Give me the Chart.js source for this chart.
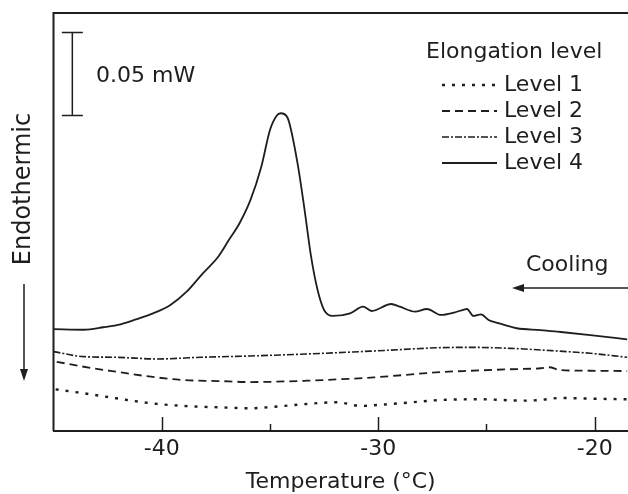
<!DOCTYPE html>
<html>
<head>
<meta charset="utf-8">
<script src="https://cdn.jsdelivr.net/npm/chart.js@4/dist/chart.umd.min.js"></script>
<style>
  html, body { margin: 0; padding: 0; background: #fff; }
  #wrap { width: 628px; height: 494px; position: relative; }
</style>
</head>
<body>
<div id="wrap"><canvas id="dscChart"></canvas></div>
<script>
// DSC cooling curves, heat flow in uW (relative offset), temperature in degC
const xTicks = [-40, -35, -30, -25, -20];
const xLabels = ['-40', '', '-30', '', '-20'];
const seriesNames = ['Level 1', 'Level 2', 'Level 3', 'Level 4'];

const tempL1 = [-44.9, -43.6, -42.1, -40.5, -39.0, -37.4, -35.9, -34.8, -33.3, -31.9, -30.8, -30.2, -28.7, -27.1, -25.3, -23.3, -22.5, -21.6, -20.2, -18.5];
const heatL1 = [25.1, 22.7, 19.7, 16.7, 15.1, 14.3, 13.7, 14.6, 16.3, 17.3, 15.1, 15.5, 17.0, 18.7, 19.1, 18.3, 18.7, 19.9, 19.5, 19.1];

const tempL2 = [-44.85, -43.6, -42.1, -40.5, -39.0, -37.4, -35.9, -33.3, -30.2, -27.1, -25.7, -23.9, -22.5, -22.1, -21.6, -20.2, -18.5];
const heatL2 = [41.7, 38.7, 35.7, 32.7, 30.7, 30.1, 29.5, 30.3, 32.3, 35.5, 36.3, 37.2, 37.8, 38.4, 36.7, 36.3, 36.1];

const tempL3 = [-45.0, -43.6, -42.1, -40.2, -38.2, -35.9, -33.3, -30.2, -27.1, -25.7, -23.9, -22.0, -20.2, -18.5];
const heatL3 = [47.8, 44.8, 44.4, 43.4, 44.4, 45.2, 46.4, 48.2, 50.2, 50.4, 49.8, 48.4, 46.8, 44.4];

const tempL4 = [-45.0, -43.6, -42.7, -41.9, -41.2, -40.4, -39.6, -38.85, -38.1, -37.4, -36.9, -36.4, -35.9, -35.4, -35.0, -34.7, -34.5, -34.2, -34.06, -33.7,
  -33.4, -33.1, -32.8, -32.5, -32.1, -31.3, -30.7, -30.3, -29.4, -29.0, -28.3, -27.75, -27.1, -26.5, -26.0, -25.9, -25.6, -25.25, -24.9, -24.5,
  -23.6, -22.5, -21.7, -20.2, -18.5];
const heatL4 = [61.4, 61.0, 62.5, 64.3, 67.2, 70.9, 75.9, 83.9, 95.0, 104.8, 115.0, 125.3, 139.2, 159.2, 181.3, 189.8, 191.4, 189.0, 183.3, 159.2,
  133.1, 105.0, 84.9, 72.9, 69.3, 70.9, 74.9, 72.3, 76.5, 74.9, 71.9, 73.5, 69.9, 71.3, 73.3, 73.5, 69.3, 70.3, 66.9, 65.2,
  61.9, 60.8, 59.8, 57.8, 55.2];

const dashes = [[3, 7], [8, 5], [7, 2, 2, 2], []];
const widths = [2.4, 1.8, 1.6, 1.8];
const ink = '#1e1e1e';
const fontFamily = '"DejaVu Sans", Verdana, sans-serif';

function pts(xs, ys) {
  return xs.map((x, i) => ({ x: x, y: ys[i] }));
}

const chartData = {
  datasets: [
    { label: seriesNames[0], data: pts(tempL1, heatL1) },
    { label: seriesNames[1], data: pts(tempL2, heatL2) },
    { label: seriesNames[2], data: pts(tempL3, heatL3) },
    { label: seriesNames[3], data: pts(tempL4, heatL4) }
  ].map((d, i) => Object.assign(d, {
    borderColor: ink,
    borderWidth: widths[i],
    borderDash: dashes[i],
    pointRadius: 0,
    fill: false,
    cubicInterpolationMode: 'monotone'
  }))
};

// frame, inward ticks, legend and annotations
const decorations = {
  id: 'decorations',
  afterDraw(chart) {
    const { ctx, chartArea: a, scales: { x, y } } = chart;
    ctx.save();
    ctx.strokeStyle = ink;
    ctx.fillStyle = ink;
    ctx.setLineDash([]);

    // left and top frame
    ctx.lineWidth = 2;
    ctx.beginPath();
    ctx.moveTo(a.left, a.bottom);
    ctx.lineTo(a.left, a.top);
    ctx.lineTo(a.right, a.top);
    ctx.stroke();

    // inward ticks
    ctx.lineWidth = 1.5;
    xTicks.forEach((t, i) => {
      const px = Math.round(x.getPixelForValue(t)) + 0.5;
      const len = xLabels[i] ? 14 : 7;
      ctx.beginPath();
      ctx.moveTo(px, a.bottom);
      ctx.lineTo(px, a.bottom - len);
      ctx.stroke();
    });

    // scale bar: 0.05 mW = 50 uW
    const bx = x.getPixelForValue(-44.13);
    const bTop = y.getPixelForValue(240);
    const bBot = y.getPixelForValue(190);
    ctx.lineWidth = 1.5;
    ctx.beginPath();
    ctx.moveTo(bx, bTop); ctx.lineTo(bx, bBot);
    ctx.moveTo(bx - 10.5, bTop); ctx.lineTo(bx + 10.5, bTop);
    ctx.moveTo(bx - 10.5, bBot); ctx.lineTo(bx + 10.5, bBot);
    ctx.stroke();

    ctx.font = '22px ' + fontFamily;
    ctx.textBaseline = 'middle';
    ctx.textAlign = 'left';
    ctx.fillText('0.05 mW', 96, 76);

    // legend
    ctx.fillText('Elongation level', 426, 52);
    const rows = [85, 111, 137, 163];
    chart.data.datasets.forEach((ds, i) => {
      ctx.save();
      ctx.lineWidth = ds.borderWidth;
      ctx.setLineDash(ds.borderDash);
      ctx.beginPath();
      ctx.moveTo(442, rows[i]);
      ctx.lineTo(497, rows[i]);
      ctx.stroke();
      ctx.restore();
      ctx.fillText(ds.label, 504, rows[i]);
    });

    // cooling arrow
    ctx.fillText('Cooling', 526, 265);
    ctx.lineWidth = 1.5;
    ctx.beginPath();
    ctx.moveTo(628, 288); ctx.lineTo(520, 288);
    ctx.stroke();
    ctx.beginPath();
    ctx.moveTo(512, 288); ctx.lineTo(524, 284); ctx.lineTo(524, 292);
    ctx.closePath(); ctx.fill();

    // endothermic label and arrow
    ctx.save();
    ctx.translate(24, 189);
    ctx.rotate(-Math.PI / 2);
    ctx.textAlign = 'center';
    ctx.font = '24px ' + fontFamily;
    ctx.fillText('Endothermic', 0, 0);
    ctx.restore();
    ctx.beginPath();
    ctx.moveTo(24, 284); ctx.lineTo(24, 372);
    ctx.stroke();
    ctx.beginPath();
    ctx.moveTo(24, 381); ctx.lineTo(20, 369); ctx.lineTo(28, 369);
    ctx.closePath(); ctx.fill();

    ctx.restore();
  }
};

new Chart(document.getElementById('dscChart'), {
  type: 'line',
  data: chartData,
  options: {
    responsive: true,
    maintainAspectRatio: false,
    animation: false,
    layout: { padding: { left: 53.5, top: 13, right: 0, bottom: 0 } },
    plugins: { legend: { display: false }, tooltip: { enabled: false } },
    scales: {
      x: {
        type: 'linear',
        min: -45,
        max: -18.46,
        afterBuildTicks: axis => { axis.ticks = xTicks.map(v => ({ value: v })); },
        afterFit: axis => { axis.height = 63; },
        grid: { display: false, drawTicks: false },
        border: { display: true, color: ink, width: 2 },
        ticks: {
          padding: 5,
          color: ink,
          font: { family: fontFamily, size: 22 },
          maxRotation: 0,
          callback: (v, i) => xLabels[i]
        },
        title: {
          display: true,
          text: 'Temperature (°C)',
          color: ink,
          font: { family: fontFamily, size: 22, lineHeight: 1.1 },
          padding: { top: 0, bottom: 0 }
        }
      },
      y: {
        display: false,
        min: 0,
        max: 251.8
      }
    }
  },
  plugins: [decorations]
});
</script>
</body>
</html>
